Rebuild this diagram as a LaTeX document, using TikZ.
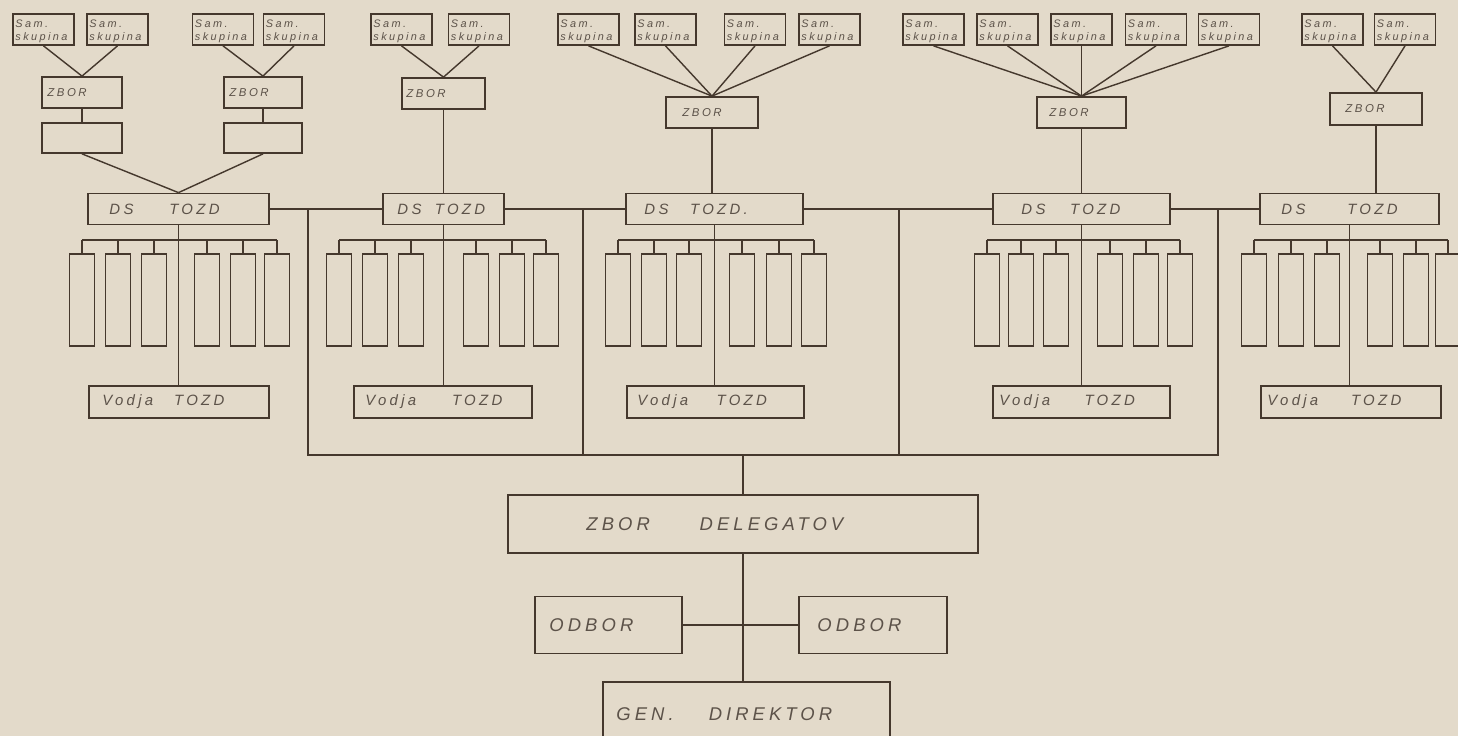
\documentclass[tikz,border=0pt]{standalone}
\usepackage{fontspec}
\newfontfamily\stencil[LetterSpace=22]{Liberation Sans}
\usetikzlibrary{positioning, calc}
\definecolor{paper}{HTML}{E3DACA}
\definecolor{ink}{HTML}{45382D}
\definecolor{pencil}{HTML}{5C5249}
\newcommand{\pxu}{0.02cm}

\begin{document}
\begin{tikzpicture}[x=\pxu, y=-\pxu,
    frame/.style={draw=ink, line width=1pt, inner sep=0pt},
    link/.style={draw=ink, line width=0.8pt},
    lbl/.style={anchor=west, inner sep=0pt, text=pencil, xshift=#1*\pxu},
    lbl/.default=10,
    samtext/.style={lbl=3, yshift=-2*\pxu, align=left,
                    font=\stencil\itshape\fontsize{6.2}{7.5}\selectfont},
    zbortext/.style={lbl=#1, font=\stencil\itshape\fontsize{6.5}{7}\selectfont},
    dstext/.style={lbl=#1, font=\stencil\itshape\fontsize{8.5}{9}\selectfont},
    bigtext/.style={lbl=#1, font=\stencil\itshape\fontsize{10.5}{11}\selectfont},
    sambox/.style={frame, minimum width=61*\pxu, minimum height=31*\pxu,
                   label={[samtext]west:Sam.\\skupina}},
    zborbox/.style={frame, minimum height=31*\pxu},
    dsbox/.style={frame, minimum height=31*\pxu},
    vodjabox/.style={frame, minimum height=32*\pxu},
    tallbox/.style={frame, minimum width=25*\pxu, minimum height=92*\pxu}
  ]
    \useasboundingbox (0,0) rectangle (1458,736);
    \fill[paper] (0,0) rectangle (1458,736);
    \clip (0,0) rectangle (1458,736);

    % samoupravne skupine
    \foreach \n/\x in {s1a/43.5, s1b/117.5, s2a/223, s2b/294, s3a/401.5, s3b/479,
                       s4a/588.5, s4b/665.5, s4c/755, s4d/829.5,
                       s5a/933.5, s5b/1007.5, s5c/1081.5, s5d/1156, s5e/1229,
                       s6a/1332.5, s6b/1405}
      \node[sambox] (\n) at (\x,29.5) {};

    % zbori
    \node[zborbox, minimum width=80*\pxu, label={[zbortext=6]west:ZBOR}] (z1) at (82,92.5) {};
    \node[zborbox, minimum width=78*\pxu, label={[zbortext=6]west:ZBOR}] (z2) at (263,92.5) {};
    \node[zborbox, minimum width=83*\pxu, label={[zbortext=5]west:ZBOR}] (z3) at (443.5,93.5) {};
    \node[zborbox, minimum width=92*\pxu, label={[zbortext=17]west:ZBOR}] (z4) at (712,112.5) {};
    \node[zborbox, minimum width=89*\pxu, label={[zbortext=13]west:ZBOR}] (z5) at (1081.5,112.5) {};
    \node[zborbox, minimum width=92*\pxu, minimum height=32*\pxu,
          label={[zbortext=16]west:ZBOR}] (z6) at (1376,109) {};
    \node[frame, minimum width=80*\pxu, minimum height=30*\pxu] (e1) at (82,138) {};
    \node[frame, minimum width=78*\pxu, minimum height=30*\pxu] (e2) at (263,138) {};

    \foreach \s in {s1a, s1b} \draw[link] (\s.south) -- (z1.north);
    \foreach \s in {s2a, s2b} \draw[link] (\s.south) -- (z2.north);
    \foreach \s in {s3a, s3b} \draw[link] (\s.south) -- (z3.north);
    \foreach \s in {s4a, s4b, s4c, s4d} \draw[link] (\s.south) -- (z4.north);
    \foreach \s in {s5a, s5b, s5c, s5d, s5e} \draw[link] (\s.south) -- (z5.north);
    \foreach \s in {s6a, s6b} \draw[link] (\s.south) -- (z6.north);
    \draw[link] (z1) -- (e1);
    \draw[link] (z2) -- (e2);

    % delavski sveti
    \node[dsbox, minimum width=181*\pxu, label={[dstext=22]west:DS\hspace{2.4em}TOZD}] (ds1) at (178.5,209) {};
    \node[dsbox, minimum width=121*\pxu, label={[dstext=15]west:DS\hspace{0.9em}TOZD}] (ds2) at (443.5,209) {};
    \node[dsbox, minimum width=177*\pxu, label={[dstext=19]west:DS\hspace{1.45em}TOZD.}] (ds3) at (714.5,209) {};
    \node[dsbox, minimum width=177*\pxu, label={[dstext=29]west:DS\hspace{1.65em}TOZD}] (ds4) at (1081.5,209) {};
    \node[dsbox, minimum width=179*\pxu, label={[dstext=22]west:DS\hspace{2.8em}TOZD}] (ds5) at (1349.5,209) {};

    \draw[link] (e1.south) -- (ds1.north);
    \draw[link] (e2.south) -- (ds1.north);
    \draw[link] (z3) -- (ds2);
    \draw[link] (z4.south) -- (z4.south |- ds3.north);
    \draw[link] (z5) -- (ds4);
    \draw[link] (z6.south) -- (z6.south |- ds5.north);
    \draw[link] (ds1) -- (ds2);
    \draw[link] (ds2) -- (ds3);
    \draw[link] (ds3) -- (ds4);
    \draw[link] (ds4) -- (ds5);

    % vodje
    \node[vodjabox, minimum width=180*\pxu, label={[dstext=14]west:Vodja\hspace{1.4em}TOZD}] (v1) at (179,402) {};
    \node[vodjabox, minimum width=178*\pxu, label={[dstext=12]west:Vodja\hspace{2.4em}TOZD}] (v2) at (443,402) {};
    \node[vodjabox, minimum width=177*\pxu, label={[dstext=11]west:Vodja\hspace{1.9em}TOZD}] (v3) at (715.5,402) {};
    \node[vodjabox, minimum width=177*\pxu, label={[dstext=7]west:Vodja\hspace{2.3em}TOZD}] (v4) at (1081.5,402) {};
    \node[vodjabox, minimum width=180*\pxu, label={[dstext=7]west:Vodja\hspace{2.2em}TOZD}] (v5) at (1351,402) {};

    \foreach \i in {1,...,5}
      \draw[link] (ds\i.south) -- (ds\i.south |- v\i.north);

    % enote pod DS
    \foreach \g/\xs in {1/{82,118,154,207,243,277}, 2/{339,375,411,476,512,546},
                        3/{618,654,689,742,779,814}, 4/{987,1021,1056,1110,1146,1180},
                        5/{1254,1291,1327,1380,1416,1448}} {
      \foreach \x [count=\i] in \xs {
        \node[tallbox] (t\g\i) at (\x,300) {};
        \draw[link] (t\g\i.north) -- ++(0,-13);
      }
      \draw[link] ([yshift=13*\pxu]t\g1.north) -- ([yshift=13*\pxu]t\g6.north);
    }

    % zbor delegatov in vodstvo
    \node[frame, minimum width=470*\pxu, minimum height=58*\pxu,
          label={[bigtext=79]west:ZBOR\hspace{2.7em}DELEGATOV}] (zd) at (743,524) {};
    \node[frame, minimum width=147*\pxu, minimum height=57*\pxu,
          label={[bigtext=15]west:ODBOR}] (odl) at (608.5,625) {};
    \node[frame, minimum width=148*\pxu, minimum height=57*\pxu,
          label={[bigtext=19]west:ODBOR}] (odr) at (873,625) {};
    \node[frame, minimum width=287*\pxu, minimum height=64*\pxu,
          label={[bigtext=14]west:GEN.\hspace{1.9em}DIREKTOR}] (gd) at (746.5,714) {};

    \coordinate (j1) at (308,209);
    \coordinate (j2) at (583,209);
    \coordinate (j3) at (899,209);
    \coordinate (j4) at (1218,209);
    \coordinate (busl) at (308,455);
    \coordinate (busr) at (1218,455);
    \draw[link] (j1) -- (busl) -- (busr) -- (j4);
    \draw[link] (j2) -- (j2 |- busl);
    \draw[link] (j3) -- (j3 |- busl);
    \draw[link] (zd.north) -- (zd.north |- busl);
    \draw[link] (zd.south) -- (zd.south |- gd.north);
    \draw[link] (odl) -- (odr);
\end{tikzpicture}
\end{document}
